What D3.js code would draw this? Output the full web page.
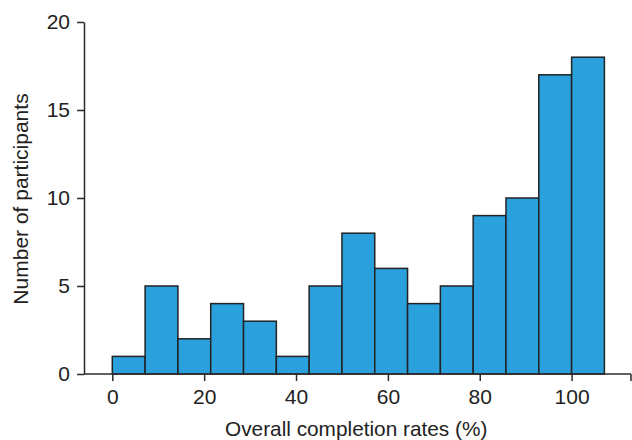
<!DOCTYPE html>
<html><head><meta charset="utf-8">
<script src="https://cdn.jsdelivr.net/npm/d3@7"></script>
<style>body{margin:0;background:#fff}svg{display:block}text{font-family:"Liberation Sans",Arial,sans-serif;fill:#222}</style>
</head><body>
<svg id="c" width="632" height="440"></svg>
<script>
const binWidth = 100 / 14;
const counts = [1, 5, 2, 4, 3, 1, 5, 8, 6, 4, 5, 9, 10, 17, 18];
const xTicks = [0, 20, 40, 60, 80, 100];
const yTicks = [0, 5, 10, 15, 20];
const xLabel = "Overall completion rates (%)";
const yLabel = "Number of participants";

const bins = counts.map((c, i) => ({x0: i * binWidth, x1: (i + 1) * binWidth, n: c}));

const svg = d3.select("#c");
const x = d3.scaleLinear().domain([0, 100]).range([112.3, 571.6]);
const y = d3.scaleLinear().domain([0, 20]).range([374, 22]);
const axisColor = "#2b2b2b";

svg.append("g").selectAll("rect").data(bins).join("rect")
  .attr("x", d => x(d.x0)).attr("width", d => x(d.x1) - x(d.x0))
  .attr("y", d => y(d.n)).attr("height", d => y(0) - y(d.n))
  .attr("fill", "#2aa0dc").attr("stroke", "#222").attr("stroke-width", 1.5);

// x axis
const xa = svg.append("g").attr("transform", `translate(0,${y(0)})`)
  .call(d3.axisBottom(x).tickValues(xTicks).tickSize(7).tickSizeOuter(0).tickPadding(8));
xa.select(".domain").remove();
xa.append("line").attr("x1", 84).attr("x2", 631).attr("stroke", axisColor).attr("stroke-width", 1.5);
xa.append("line").attr("x1", 631).attr("x2", 631).attr("y2", 7).attr("stroke", axisColor).attr("stroke-width", 1.5);
xa.selectAll(".tick line").attr("stroke", axisColor).attr("stroke-width", 1.5);
xa.selectAll(".tick text").attr("font-size", 21).attr("fill", "#222");

// y axis
const ya = svg.append("g").attr("transform", `translate(84,0)`)
  .call(d3.axisLeft(y).tickValues(yTicks).tickSize(7).tickSizeOuter(0).tickPadding(7));
ya.select(".domain").attr("stroke", axisColor).attr("stroke-width", 1.5);
ya.selectAll(".tick line").attr("stroke", axisColor).attr("stroke-width", 1.5);
ya.selectAll(".tick text").attr("font-size", 21).attr("fill", "#222");

svg.append("text").attr("x", 225).attr("y", 436).attr("text-anchor", "start")
  .attr("font-size", 20.8).text(xLabel);
svg.append("text").attr("transform", `translate(28,199) rotate(-90)`).attr("text-anchor", "middle")
  .attr("font-size", 21).text(yLabel);
</script>
</body></html>
